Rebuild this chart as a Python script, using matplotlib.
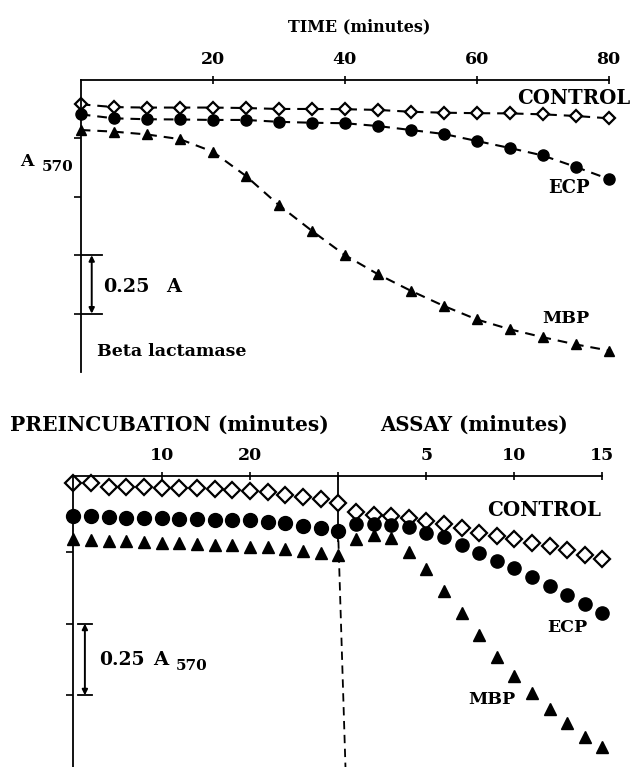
import matplotlib
matplotlib.use("Agg")
from matplotlib import pyplot as plt

plt.rcParams["font.family"] = ["DejaVu Serif"]
plt.rcParams["font.weight"] = "bold"
plt.rcParams["lines.scale_dashes"] = False

# --- top panel: beta lactamase, A570 against time ---
time_min = list(range(0, 85, 5))
control_top = [1.146, 1.134, 1.132, 1.132, 1.132, 1.130, 1.126, 1.126, 1.125,
               1.122, 1.114, 1.110, 1.108, 1.107, 1.103, 1.096, 1.086]
ecp_top = [1.103, 1.086, 1.082, 1.081, 1.079, 1.079, 1.071, 1.067, 1.065,
           1.053, 1.036, 1.019, 0.989, 0.959, 0.927, 0.878, 0.826]
mbp_top = [1.036, 1.029, 1.017, 0.997, 0.943, 0.840, 0.715, 0.605, 0.501,
           0.419, 0.348, 0.283, 0.225, 0.183, 0.149, 0.118, 0.092]
time_ticks = [20, 40, 60, 80]

# --- bottom panel: preincubation followed by assay ---
preinc_min = list(range(0, 32, 2))
assay_min = list(range(1, 16))
control_pre = [0.992, 0.990, 0.978, 0.978, 0.976, 0.972, 0.972, 0.972,
               0.969, 0.966, 0.964, 0.960, 0.949, 0.943, 0.934, 0.922]
ecp_pre = [0.875, 0.874, 0.872, 0.870, 0.868, 0.867, 0.865, 0.865,
           0.863, 0.862, 0.860, 0.856, 0.851, 0.841, 0.832, 0.823]
mbp_pre = [0.794, 0.792, 0.788, 0.787, 0.785, 0.781, 0.780, 0.778,
           0.774, 0.773, 0.769, 0.766, 0.760, 0.755, 0.748, 0.739]
control_assay = [0.890, 0.879, 0.875, 0.867, 0.859, 0.848, 0.833, 0.817,
                 0.806, 0.794, 0.782, 0.771, 0.757, 0.739, 0.724]
ecp_assay = [0.848, 0.848, 0.844, 0.836, 0.817, 0.801, 0.774, 0.747,
             0.720, 0.693, 0.664, 0.631, 0.600, 0.569, 0.536]
mbp_assay = [0.794, 0.809, 0.798, 0.751, 0.691, 0.613, 0.538, 0.461,
             0.385, 0.317, 0.257, 0.201, 0.152, 0.106, 0.069]
preinc_ticks = [10, 20]
assay_ticks = [5, 10, 15]

W, H = 632, 767
FS = 12.5


def fx(x):
    return x / W


def fy(y):
    return 1 - y / H


def label(x, y, s, size=FS):
    # x = left edge, y = vertical centre, both in picture pixels
    fig.text(fx(x), fy(y), s, ha="left", va="center", fontsize=size)


def setup_axis(ax, show_left=True):
    for side in ["right", "bottom"]:
        ax.spines[side].set_visible(False)
    ax.spines["top"].set_linewidth(1.3)
    ax.spines["left"].set_linewidth(1.3)
    ax.spines["left"].set_visible(show_left)
    ax.xaxis.set_ticks_position("top")
    ax.tick_params(axis="x", direction="inout", length=6, width=1.2,
                   pad=6, labelsize=FS)
    ax.tick_params(axis="y", direction="out", length=5, width=1.2,
                   labelleft=False)
    ax.patch.set_alpha(0)


fig = plt.figure(figsize=(W / 100, H / 100), dpi=100)

# top panel
ax1 = fig.add_axes([fx(80.7), fy(372), fx(528), 292 / H])
setup_axis(ax1)
ax1.set_xlim(0, 80)
ax1.set_ylim(0, 1.25)
ax1.set_xticks(time_ticks)
ax1.set_yticks([0.25, 0.5, 0.75, 1.0])

ax1.plot(time_min, control_top, color="k", lw=1.5, dashes=(7, 5),
         marker="D", ms=6.2, mfc="white", mec="k", mew=1.6, clip_on=False)
ax1.plot(time_min, ecp_top, color="k", lw=1.5, dashes=(7, 5),
         marker="o", ms=8, mfc="k", mec="k", clip_on=False)
ax1.plot(time_min, mbp_top, color="k", lw=1.5, dashes=(7, 5),
         marker="^", ms=7.5, mfc="k", mec="k", clip_on=False)

# scale bar 0.25 A
ax1.annotate("", xy=(1.67, 0.5), xytext=(1.67, 0.25),
             arrowprops=dict(arrowstyle="<|-|>", lw=1.4, color="k",
                             mutation_scale=8, shrinkA=0, shrinkB=0))
for yv in [0.25, 0.5]:
    ax1.plot([0.2, 3.2], [yv, yv], color="k", lw=1.3, clip_on=False)

fig.text(fx(359), fy(27), "TIME (minutes)", ha="center", va="center", fontsize=11.5)
label(20, 162, "A")
label(42, 167, "570", FS - 1.5)
label(517, 98, "CONTROL", 14.2)
label(548, 188, "ECP", 13)
label(542, 318, "MBP")
label(103, 287, "0.25", 13.8)
label(166, 287, "A", 13.8)
label(97, 352, "Beta lactamase")

# bottom panel: preincubation part and assay part share the y scale
ylim_b = (0, 1.015)
ax2 = fig.add_axes([fx(73.4), 0, fx(265), 291 / H])
setup_axis(ax2)
ax2.set_xlim(0, 30)
ax2.set_ylim(*ylim_b)
ax2.set_xticks(preinc_ticks + [30])
ax2.set_xticklabels([str(t) for t in preinc_ticks] + [""])
ax2.set_yticks([0.25, 0.5, 0.75])

ax3 = fig.add_axes([fx(338.4), 0, fx(264), 291 / H])
setup_axis(ax3, show_left=False)
ax3.set_xlim(0, 15)
ax3.set_ylim(*ylim_b)
ax3.set_xticks(assay_ticks)
ax3.set_yticks([])

ax2.plot(preinc_min, control_pre, ls="none", marker="D", ms=7.8,
         mfc="white", mec="k", mew=1.6, clip_on=False)
ax2.plot(preinc_min, ecp_pre, ls="none", marker="o", ms=10, color="k", clip_on=False)
ax2.plot(preinc_min, mbp_pre, ls="none", marker="^", ms=8.5, color="k", clip_on=False)

ax3.plot(assay_min, control_assay, ls="none", marker="D", ms=7.8,
         mfc="white", mec="k", mew=1.6, clip_on=False)
ax3.plot(assay_min, ecp_assay, ls="none", marker="o", ms=9.5, color="k", clip_on=False)
ax3.plot(assay_min, mbp_assay, ls="none", marker="^", ms=8.5, color="k", clip_on=False)

# boundary between preincubation and assay
ax2.plot([30, 30], [ylim_b[1], 0.79], color="k", lw=1.3, clip_on=False, zorder=1)
ax2.plot([30, 30.8], [0.79, 0], color="k", lw=1.3, dashes=(6, 4), clip_on=False)

# scale bar 0.25 A570
ax2.annotate("", xy=(1.3, 0.5), xytext=(1.3, 0.25),
             arrowprops=dict(arrowstyle="<|-|>", lw=1.4, color="k",
                             mutation_scale=8, shrinkA=0, shrinkB=0))
for yv in [0.25, 0.5]:
    ax2.plot([0.5, 2.1], [yv, yv], color="k", lw=1.3, clip_on=False)

label(10, 425, "PREINCUBATION (minutes)", 14.5)
label(380, 425, "ASSAY (minutes)", 14.2)
label(487, 510, "CONTROL", 14.3)
label(547, 628, "ECP")
label(468, 700, "MBP")
label(99, 660, "0.25", 13.5)
label(153, 660, "A", 14)
label(176, 666, "570", 11)

fig.savefig("out.png", dpi=100)
